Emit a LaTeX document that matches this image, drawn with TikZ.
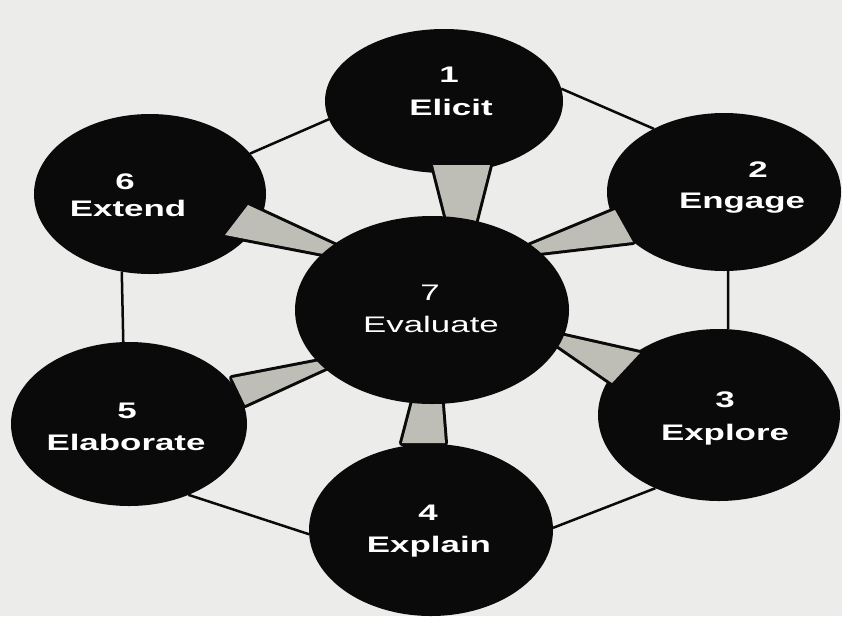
\documentclass[tikz,border=0pt]{standalone}
\usepackage{fontspec}
\setmainfont{Liberation Sans}
\usetikzlibrary{shapes.geometric}
\definecolor{bgcol}{HTML}{ECECEA}
\definecolor{wedgecol}{HTML}{BEBDB6}
\definecolor{blobcol}{HTML}{0A0A0A}
\tikzset{
  blob/.style={ellipse, fill=blobcol, inner sep=0pt, outer sep=0pt},
  rim/.style={draw=blobcol, line width=2.5pt},
  wedge/.style={fill=wedgecol, preaction={draw=blobcol, line width=6pt, line join=round}},
  lab/.style={text=white, inner sep=0pt, anchor=base, font=\fontsize{22.5}{27}\selectfont\bfseries},
  labr/.style={lab, font=\fontsize{22.5}{27}\selectfont},
}
\newcommand{\wide}[1]{\scalebox{1.55}[1]{#1}}
\begin{document}
\begin{tikzpicture}[x=1pt,y=-1pt]
\fill[bgcol] (0,0) rectangle (842,616);
\useasboundingbox (0,0) rectangle (842,616);
% outer blobs
\node[blob, minimum width=238pt, minimum height=144pt] (e1) at (444,101) {};
\node[blob, minimum width=234pt, minimum height=158pt] (e2) at (724,192) {};
\node[blob, minimum width=242pt, minimum height=172pt] (e3) at (719,415) {};
\node[blob, minimum width=244pt, minimum height=172pt] (e4) at (431,530) {};
\node[blob, minimum width=236pt, minimum height=164pt] (e5) at (129,424) {};
\node[blob, minimum width=232pt, minimum height=160pt] (e6) at (150,194) {};
% ring connectors
\draw[rim] (e6.22) -- (e1.189);
\draw[rim] (e1.6) -- (e2.138);
\draw[rim] (e2.273) -- (e3.84);
\draw[rim] (e3.229) -- (e4.1);
\draw[rim] (e4.182) -- (e5.310);
\draw[rim] (e5.94) -- (e6.250);
% wedges
\path[wedge] (433,165) -- (490,165) -- (473,232) -- (450,232) -- cycle;
\path[wedge] (615,210) -- (633,242) -- (518,255.5) -- (515,251.5) -- cycle;
\path[wedge] (640,353) -- (612,383) -- (540.5,333.6) -- (540.5,330.6) -- cycle;
\path[wedge] (402,443) -- (445,443) -- (440.4,385) -- (417,385.7) -- cycle;
\path[wedge] (232,378) -- (329.6,359.2) -- (335.2,363.7) -- (245,405) -- cycle;
\path[wedge] (248,205) -- (357.2,255.6) -- (347.5,258.7) -- (225,235) -- cycle;
% centre blob
\node[blob, minimum width=274pt, minimum height=188pt] (e7) at (432,310) {};
% labels
\node[lab] (n1) at (449,82) {\wide{1}};
\node[lab] (t1) at (451,115) {\wide{Elicit}};
\node[lab] (n2) at (758,177) {\wide{2}};
\node[lab] (t2) at (742,208) {\wide{Engage}};
\node[lab] (n3) at (725,407) {\wide{3}};
\node[lab] (t3) at (725,440) {\wide{Explore}};
\node[lab] (n4) at (428,520) {\wide{4}};
\node[lab] (t4) at (429,552) {\wide{Explain}};
\node[lab] (n5) at (127,418) {\wide{5}};
\node[lab] (t5) at (126,450) {\wide{Elaborate}};
\node[lab] (n6) at (125,189) {\wide{6}};
\node[lab] (t6) at (128,216) {\wide{Extend}};
\node[labr] (n7) at (430,300) {\wide{7}};
\node[labr] (t7) at (431,332) {\wide{Evaluate}};
\end{tikzpicture}
\end{document}
